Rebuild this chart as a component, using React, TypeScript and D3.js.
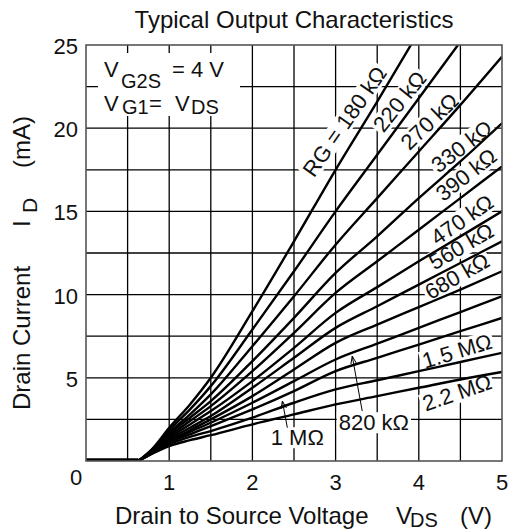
import React, { useEffect, useRef } from "react";
import * as d3 from "d3";

// Drain-source voltage sample points (V)
const vdsPoints = [0.63, 0.8, 1.0, 1.25, 1.5, 2.0, 2.5, 3.0, 3.5, 4.0, 4.5, 5.0];

// Drain current (mA) per gate resistor
const id180k = [0, 0.75, 2.0, 3.4, 5.0, 9.0, 13.2, 17.5, 21.6, 25.8];
const id220k = [0, 0.72, 1.85, 3.1, 4.5, 7.9, 11.4, 15.0, 18.4, 21.8, 25.2];
const id270k = [0, 0.68, 1.7, 2.8, 4.0, 6.9, 9.9, 13.0, 15.8, 18.6, 21.4, 24.3];
const id330k = [0, 0.65, 1.6, 2.6, 3.6, 6.0, 8.6, 11.3, 13.5, 15.8, 18.0, 20.3];
const id390k = [0, 0.62, 1.5, 2.4, 3.3, 5.4, 7.7, 10.1, 12.0, 13.9, 15.8, 17.7];
const id470k = [0, 0.6, 1.4, 2.2, 3.0, 4.8, 6.8, 8.9, 10.45, 12.0, 13.5, 15.0];
const id560k = [0, 0.57, 1.3, 2.0, 2.7, 4.4, 6.2, 8.0, 9.3, 10.6, 11.9, 13.2];
const id680k = [0, 0.55, 1.2, 1.85, 2.5, 3.9, 5.5, 7.1, 8.2, 9.25, 10.3, 11.4];
const id820k = [0, 0.52, 1.15, 1.75, 2.3, 3.5, 4.8, 6.1, 7.05, 8.0, 8.95, 9.9];
const id1M = [0, 0.5, 1.1, 1.6, 2.1, 3.1, 4.2, 5.4, 6.2, 7.0, 7.8, 8.6];
const id1M5 = [0, 0.47, 1.0, 1.45, 1.8, 2.6, 3.5, 4.3, 4.85, 5.4, 5.95, 6.5];
const id2M2 = [0, 0.45, 0.9, 1.25, 1.55, 2.2, 2.8, 3.4, 3.9, 4.4, 4.9, 5.35];

const allSeries = [id180k, id220k, id270k, id330k, id390k, id470k, id560k, id680k, id820k, id1M, id1M5, id2M2];

// Cut-off region (flat at 0 mA)
const cutoffV = [0, 0.63];

// Curve labels: text, anchor in data units (V, mA), rotation (deg)
const labelTexts = ["RG = 180 kΩ", "220 kΩ", "270 kΩ", "330 kΩ", "390 kΩ", "470 kΩ", "560 kΩ", "680 kΩ", "1.5 MΩ", "2.2 MΩ", "820 kΩ", "1 MΩ"];
const labelV = [3.11, 3.77, 4.13, 4.52, 4.57, 4.52, 4.51, 4.46, 4.46, 4.46, 3.46, 2.54];
const labelI = [20.4, 21.6, 20.4, 18.9, 17.2, 14.5, 12.9, 11.1, 6.6, 4.1, 2.3, 1.4];
const labelAngle = [-55, -51, -44, -37, -38, -35, -30, -30, -17, -19, 0, 0];

// Leader arrows (from -> to) in data units
const arrowFromV = [3.32, 2.42];
const arrowFromI = [3.0, 2.0];
const arrowToV = [3.2, 2.36];
const arrowToI = [6.3, 3.6];

const xTicks = [1, 2, 3, 4, 5];
const yTicks = [5, 10, 15, 20, 25];
const gridV = d3.range(0.5, 5, 0.5);
const gridI = d3.range(2.5, 25, 2.5);

const FONT = "'Liberation Sans', Arial, Helvetica, sans-serif";

export default function App() {
  const ref = useRef<SVGSVGElement>(null);

  useEffect(() => {
    const svg = d3.select(ref.current!);
    svg.selectAll("*").remove();

    const x = d3.scaleLinear().domain([0, 5]).range([86, 502]);
    const y = d3.scaleLinear().domain([0, 25]).range([461, 45]);

    svg.append("rect").attr("width", 511).attr("height", 531).attr("fill", "#fff");

    svg.append("defs").append("clipPath").attr("id", "plotclip")
      .append("rect").attr("x", 86).attr("y", 45).attr("width", 416).attr("height", 416);

    // grid
    const grid = svg.append("g").attr("stroke", "#000").attr("stroke-width", 1.3);
    grid.selectAll("line.v").data(gridV).join("line")
      .attr("x1", (d) => x(d)).attr("x2", (d) => x(d)).attr("y1", y(0)).attr("y2", y(25));
    grid.selectAll("line.h").data(gridI).join("line")
      .attr("class", "h")
      .attr("x1", x(0)).attr("x2", x(5)).attr("y1", (d) => y(d)).attr("y2", (d) => y(d));

    const bgLayer = svg.append("g");
    const curveLayer = svg.append("g").attr("clip-path", "url(#plotclip)");
    const textLayer = svg.append("g").attr("font-family", FONT).attr("fill", "#111");

    // condition box
    bgLayer.append("rect").attr("x", 98).attr("y", 53).attr("width", 142).attr("height", 63).attr("fill", "#fff");
    const t1 = textLayer.append("text").attr("font-size", 22);
    t1.append("tspan").attr("x", 104).attr("y", 77).text("V");
    t1.append("tspan").attr("x", 121).attr("y", 88).attr("font-size", 20).text("G2S");
    t1.append("tspan").attr("x", 172).attr("y", 77).text("= 4 V");
    const t2 = textLayer.append("text").attr("font-size", 22);
    t2.append("tspan").attr("x", 104).attr("y", 111).text("V");
    t2.append("tspan").attr("x", 122).attr("y", 114).attr("font-size", 20).text("G1");
    t2.append("tspan").attr("x", 149).attr("y", 111).text("=");
    t2.append("tspan").attr("x", 175).attr("y", 111).text("V");
    t2.append("tspan").attr("x", 191).attr("y", 114).attr("font-size", 20).text("DS");

    // curves
    const line = d3.line<[number, number]>()
      .x((d) => x(d[0])).y((d) => y(d[1])).curve(d3.curveMonotoneX);
    allSeries.forEach((s) => {
      const pts: [number, number][] = s.map((v, i) => [vdsPoints[i], v]);
      curveLayer.append("path").attr("d", line(pts)!).attr("fill", "none")
        .attr("stroke", "#000").attr("stroke-width", 2.4).attr("stroke-linejoin", "round");
    });
    curveLayer.append("line").attr("x1", x(cutoffV[0])).attr("x2", x(cutoffV[1]))
      .attr("y1", y(0) - 1).attr("y2", y(0) - 1).attr("stroke", "#000").attr("stroke-width", 3.5);

    // labels
    labelTexts.forEach((t, i) => {
      const cx = x(labelV[i]);
      const cy = y(labelI[i]);
      const tr = `translate(${cx},${cy}) rotate(${labelAngle[i]})`;
      const g = textLayer.append("g").attr("transform", tr);
      const txt = g.append("text").attr("font-size", 22).attr("text-anchor", "middle")
        .attr("dominant-baseline", "central").text(t);
      const bb = (txt.node() as SVGTextElement).getBBox();
      bgLayer.append("rect").attr("transform", tr)
        .attr("x", bb.x - 2).attr("y", bb.y + 2).attr("width", bb.width + 4).attr("height", bb.height - 4)
        .attr("fill", "#fff");
    });

    // arrows
    arrowFromV.forEach((_, i) => {
      const x1 = x(arrowFromV[i]), y1 = y(arrowFromI[i]);
      const x2 = x(arrowToV[i]), y2 = y(arrowToI[i]);
      const ang = Math.atan2(y2 - y1, x2 - x1);
      const ah = 8, aw = 0.35;
      const p1 = [x2 - ah * Math.cos(ang - aw), y2 - ah * Math.sin(ang - aw)];
      const p2 = [x2 - ah * Math.cos(ang + aw), y2 - ah * Math.sin(ang + aw)];
      textLayer.append("path")
        .attr("d", `M${x1},${y1}L${x2},${y2}M${p1[0]},${p1[1]}L${x2},${y2}L${p2[0]},${p2[1]}`)
        .attr("fill", "none").attr("stroke", "#000").attr("stroke-width", 1);
    });

    // border
    svg.append("rect").attr("x", 86).attr("y", 45).attr("width", 416).attr("height", 416)
      .attr("fill", "none").attr("stroke", "#555").attr("stroke-width", 1.6);

    // ticks
    const ticks = svg.append("g").attr("font-family", FONT).attr("font-size", 22).attr("fill", "#111");
    ticks.selectAll("text.y").data(yTicks).join("text").attr("class", "y")
      .attr("x", 78).attr("y", (d) => y(d) + 9).attr("text-anchor", "end").text((d) => String(d));
    ticks.selectAll("text.x").data(xTicks).join("text").attr("class", "x")
      .attr("x", (d) => x(d)).attr("y", 490).attr("text-anchor", "middle").text((d) => String(d));
    ticks.append("text").attr("x", 76).attr("y", 485).attr("text-anchor", "middle").text("0");

    // title
    svg.append("text").attr("x", 294).attr("y", 28).attr("text-anchor", "middle")
      .attr("font-family", FONT).attr("font-size", 24).attr("fill", "#111")
      .text("Typical Output Characteristics");

    // x label
    const xl = svg.append("text").attr("font-family", FONT).attr("font-size", 24).attr("fill", "#111");
    xl.append("tspan").attr("x", 115).attr("y", 524).text("Drain to Source Voltage");
    xl.append("tspan").attr("x", 396).attr("y", 524).text("V");
    xl.append("tspan").attr("x", 410).attr("y", 527).attr("font-size", 20).text("DS");
    xl.append("tspan").attr("x", 460).attr("y", 524).text("(V)");

    // y label
    const yl = svg.append("text").attr("transform", "rotate(-90)")
      .attr("font-family", FONT).attr("font-size", 24).attr("fill", "#111");
    yl.append("tspan").attr("x", -410).attr("y", 30).text("Drain Current");
    yl.append("tspan").attr("x", -227).attr("y", 30).text("I");
    yl.append("tspan").attr("x", -213).attr("y", 37).attr("font-size", 21).text("D");
    yl.append("tspan").attr("x", -168).attr("y", 30).text("(mA)");
  }, []);

  return (
    <svg ref={ref} width={511} height={531}
      style={{ position: "absolute", left: 0, top: 0, display: "block" }} />
  );
}
